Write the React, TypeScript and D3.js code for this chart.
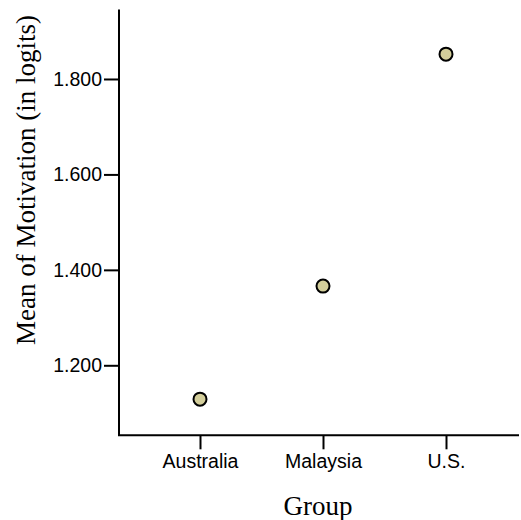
import React, { useEffect, useRef } from "react";
import * as d3 from "d3";

const groups = ["Australia", "Malaysia", "U.S."];
const meanMotivation = [1.129, 1.366, 1.852];
const yTicks = [1.2, 1.4, 1.6, 1.8];

const W = 521;
const H = 520;

export default function App() {
  const ref = useRef<SVGSVGElement | null>(null);

  useEffect(() => {
    const svg = d3.select(ref.current);
    svg.selectAll("*").remove();

    const left = 119;
    const right = 519;
    const top = 9.5;
    const bottom = 435.3;

    const x = d3.scalePoint<string>().domain(groups).range([200, 446]);
    const y = d3.scaleLinear().domain([1.0533, 1.9456]).range([bottom, top]);

    // y axis
    const yAxis = d3
      .axisLeft(y)
      .tickValues(yTicks)
      .tickSize(15)
      .tickPadding(2)
      .tickFormat((d) => d3.format(".3f")(d as number));
    const gy = svg.append("g").attr("transform", `translate(${left},0)`).call(yAxis);
    gy.select(".domain").remove();
    gy.selectAll("line").attr("stroke", "#000").attr("stroke-width", 2);
    gy.selectAll("text")
      .attr("font-family", "Liberation Sans, Arial, sans-serif")
      .attr("font-size", 19.5)
      .attr("fill", "#000");

    // x axis
    const xAxis = d3.axisBottom(x).tickSize(14).tickPadding(5);
    const gx = svg.append("g").attr("transform", `translate(0,${bottom})`).call(xAxis);
    gx.select(".domain").remove();
    gx.selectAll("line").attr("stroke", "#000").attr("stroke-width", 2);
    gx.selectAll("text")
      .attr("font-family", "Liberation Sans, Arial, sans-serif")
      .attr("font-size", 19.5)
      .attr("fill", "#000");

    // axis frame (left + bottom)
    svg
      .append("path")
      .attr("d", `M${left},${top}V${bottom}H${right}`)
      .attr("fill", "none")
      .attr("stroke", "#000")
      .attr("stroke-width", 2);

    // points
    svg
      .append("g")
      .selectAll("circle")
      .data(groups.map((g, i) => ({ g, v: meanMotivation[i] })))
      .join("circle")
      .attr("cx", (d) => x(d.g) as number)
      .attr("cy", (d) => y(d.v))
      .attr("r", 6.5)
      .attr("fill", "#d3ce9b")
      .attr("stroke", "#000")
      .attr("stroke-width", 2);

    // axis titles
    svg
      .append("text")
      .attr("x", 318)
      .attr("y", 515)
      .attr("text-anchor", "middle")
      .attr("font-family", "Liberation Serif, Times New Roman, serif")
      .attr("font-size", 27)
      .attr("fill", "#000")
      .text("Group");

    svg
      .append("text")
      .attr("transform", `translate(35,180) rotate(-90)`)
      .attr("text-anchor", "middle")
      .attr("font-family", "Liberation Serif, Times New Roman, serif")
      .attr("font-size", 27)
      .attr("fill", "#000")
      .text("Mean of Motivation (in logits)");
  }, []);

  return (
    <svg
      ref={ref}
      width={W}
      height={H}
      style={{ position: "absolute", left: 0, top: 0, background: "#fff" }}
    />
  );
}
